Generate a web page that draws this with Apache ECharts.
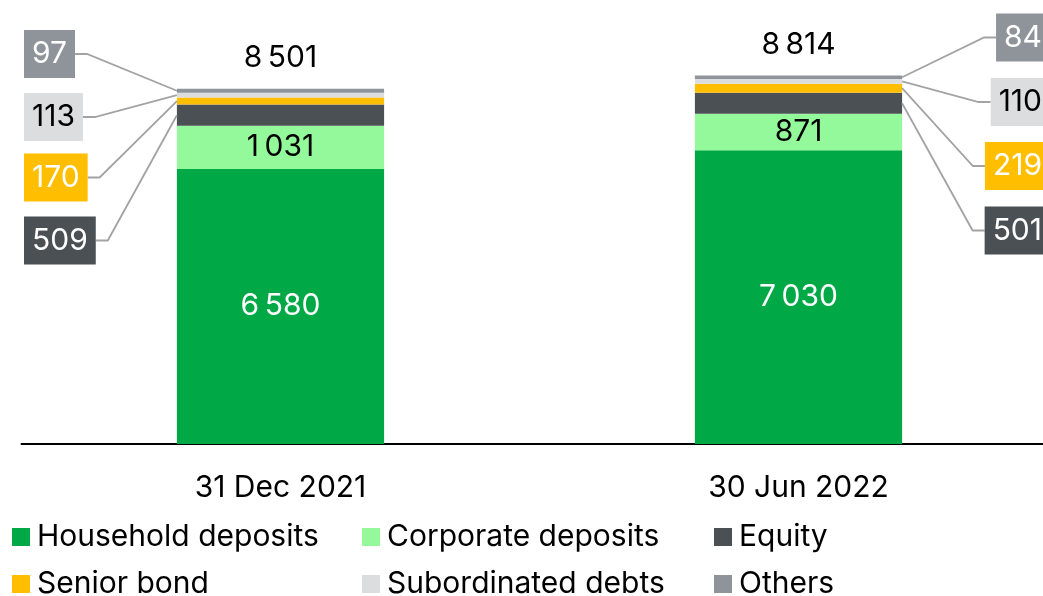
<!DOCTYPE html>
<html>
<head>
<meta charset="utf-8">
<script src="https://cdn.jsdelivr.net/npm/echarts@6/dist/echarts.min.js"></script>
<style>
  html, body { margin: 0; padding: 0; background: #fff; }
  #chart { width: 1043px; height: 596px; }
</style>
</head>
<body>
<div id="chart"></div>
<script>
// data
const categories = ['31 Dec 2021', '30 Jun 2022']
const household = [6580, 7030]
const corporate = [1031, 871]
const equity = [509, 501]
const seniorBond = [170, 219]
const subordinated = [113, 110]
const others = [97, 84]
const totals = [8501, 8814]

const FONT = 'Inter'
const FS = 30
const colors = ['#00a846', '#94f99a', '#4b5055', '#ffbe00', '#dcdddf', '#8f949b']

// thin space as thousands separator
function fmt(v) {
  return String(v).replace(/\B(?=(\d{3})+(?!\d))/g, '\u2009')
}

const ctx = document.createElement('canvas').getContext('2d')
function textWidth(t) {
  ctx.font = FS + 'px ' + FONT
  return ctx.measureText(t).width
}

// callouts for the thin segments (equity, senior, subordinated, others)
const small = [equity, seniorBond, subordinated, others]
const boxFill = ['#4b5055', '#ffbe00', '#dcdddf', '#8f949b']
const boxText = ['#fff', '#fff', '#000', '#fff']
const calloutRows = [[240.5, 177.5, 117, 54], [230.5, 166, 102, 37.5]]

const calloutData = []
categories.forEach((c, i) => {
  let base = household[i] + corporate[i]
  small.forEach((arr, s) => {
    calloutData.push([i, base + arr[i] / 2, arr[i], s])
    base += arr[i]
  })
})

// legend slots: 3 columns x 2 rows
const legendItems = [
  ['Household deposits', 12, 522], ['Corporate deposits', 362, 522], ['Equity', 714, 522],
  ['Senior bond', 12, 569], ['Subordinated debts', 362, 569], ['Others', 714, 569]
]

const myChart = echarts.init(document.getElementById('chart'))

const labelBase = { fontFamily: FONT, fontSize: FS }

myChart.setOption({
  animation: false,
  textStyle: { fontFamily: FONT },
  grid: {
    left: 21.5,
    right: -14.5,
    top: 26,
    bottom: 152,
    containLabel: false,
    outerBoundsMode: 'none'
  },
  legend: legendItems.map(l => ({
    data: [l[0]],
    left: l[1],
    top: l[2],
    padding: 0,
    itemWidth: 18,
    itemHeight: 18,
    icon: 'rect',
    selectedMode: false,
    textStyle: { fontFamily: FONT, fontSize: FS, color: '#000', padding: [0, 0, 0, 2] }
  })),
  xAxis: {
    type: 'category',
    data: categories,
    axisLine: { lineStyle: { color: '#000', width: 2 } },
    axisTick: { show: false },
    axisLabel: { color: '#000', fontFamily: FONT, fontSize: FS, margin: 29 }
  },
  yAxis: {
    type: 'value',
    min: 0,
    max: 10000,
    show: false
  },
  series: [
    {
      name: 'Household deposits', type: 'bar', stack: 'total', data: household, barWidth: '40%',
      itemStyle: { color: colors[0] },
      label: Object.assign({ show: true, position: 'inside', color: '#fff', formatter: p => fmt(p.value) }, labelBase)
    },
    {
      name: 'Corporate deposits', type: 'bar', stack: 'total', data: corporate,
      itemStyle: { color: colors[1] },
      label: Object.assign({ show: true, position: 'inside', color: '#000', formatter: p => fmt(p.value) }, labelBase)
    },
    { name: 'Equity', type: 'bar', stack: 'total', data: equity, itemStyle: { color: colors[2] } },
    { name: 'Senior bond', type: 'bar', stack: 'total', data: seniorBond, itemStyle: { color: colors[3] } },
    { name: 'Subordinated debts', type: 'bar', stack: 'total', data: subordinated, itemStyle: { color: colors[4] } },
    {
      name: 'Others', type: 'bar', stack: 'total', data: others,
      itemStyle: { color: colors[5] },
      label: Object.assign({
        show: true, position: 'top', distance: 16, color: '#000',
        formatter: p => fmt(totals[p.dataIndex])
      }, labelBase)
    },
    {
      type: 'custom',
      data: calloutData,
      encode: { x: 0, y: 1 },
      z: 5,
      silent: true,
      renderItem(params, api) {
        const i = api.value(0)
        const s = api.value(3)
        const pt = api.coord([i, api.value(1)])
        const half = api.size([1, 0])[0] * 0.2
        const side = i === 0 ? -1 : 1
        const ax = pt[0] + side * half
        const cy = calloutRows[i][s]
        const txt = fmt(api.value(2))
        const w = textWidth(txt) + 16
        const h = 48
        const bx = side < 0 ? 24 : 1050 - w
        const edge = side < 0 ? bx + w : bx
        const elbow = edge - side * 12
        return {
          type: 'group',
          children: [
            {
              type: 'polyline',
              shape: { points: [[ax, pt[1]], [elbow, cy], [edge, cy]] },
              style: { stroke: '#a3a3a3', lineWidth: 1.8, fill: null }
            },
            {
              type: 'rect',
              shape: { x: bx, y: cy - h / 2, width: w, height: h },
              style: { fill: boxFill[s] }
            },
            {
              type: 'text',
              x: bx + w / 2,
              y: cy,
              style: {
                text: txt, fill: boxText[s], font: FS + 'px ' + FONT,
                align: 'center', verticalAlign: 'middle'
              }
            }
          ]
        }
      }
    }
  ]
})

window.addEventListener('resize', () => myChart.resize())
</script>
</body>
</html>
